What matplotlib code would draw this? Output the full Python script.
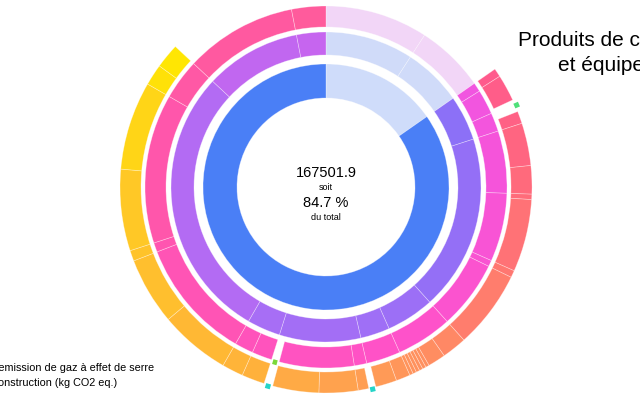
import matplotlib
matplotlib.use("Agg")
import matplotlib.pyplot as plt
from matplotlib.patches import Wedge
from matplotlib.colors import LinearSegmentedColormap
import numpy as np

plt.rcParams['font.family'] = ['Liberation Sans', 'DejaVu Sans']

# valeurs en kg CO2 eq., anneau par anneau, sens horaire depuis midi
# l = hors sélection (pâle), h = sélection, g = vide (petit repère), n = rien
ring1_values = [30257.1, 167501.9]
ring1_kind = ['l', 'h']

ring2_values = [18128, 12129, 9295, 36256, 9888, 6043, 16755, 6867, 56581, 19776, 6043]
ring2_kind = ['l', 'l', 'h', 'h', 'h', 'h', 'h', 'h', 'h', 'h', 'h']

ring3_values = [18128, 12129, 1604, 4395, 3296, 10987, 12085, 1099, 12085, 9888, 6043,
                2197, 13184, 1373, 3571, 3296, 21424, 1648, 26368, 7141, 19776, 6043]
ring3_kind = ['l', 'l', 'h', 'h', 'h', 'h', 'h', 'h', 'h', 'h', 'h',
              'h', 'h', 'g', 'h', 'h', 'h', 'h', 'h', 'h', 'h', 'h']

ring4_values = [30257, 1329, 4120, 1923, 1923, 6592, 4395, 824, 11261, 1099, 12085,
                3845, 2747, 549, 549, 549, 549, 549, 549, 2197, 3296, 1099, 1648,
                6043, 7141, 1373, 3571, 3296, 10987, 10437, 1648, 12635, 13733,
                3296, 3845, 25819]
ring4_kind = ['n', 'h', 'h', 'g', 'h', 'h', 'h', 'h', 'h', 'h', 'h',
              'h', 'h', 'h', 'h', 'h', 'h', 'h', 'h', 'h', 'h', 'g', 'h',
              'h', 'h', 'g', 'h', 'h', 'h', 'h', 'h', 'h', 'h',
              'h', 'h', 'n']

total = sum(ring1_values)
selection = ring1_values[1]

# mise en forme
cx, cy = 326, 187
rings = [
    (ring1_values, ring1_kind, 89, 123, ['#4a7ff6', '#4a7ff6'], '#cfdcfa', []),
    (ring2_values, ring2_kind, 132, 155, ['#8a70f7', '#a86ef5', '#c765ef'], '#d0dbf9', []),
    (ring3_values, ring3_kind, 160, 181, ['#f155e0', '#ff52c8', '#ff55ae', '#ff5b9b'], '#f2d6f7', ['#7ad83a']),
    (ring4_values, ring4_kind, 185, 206, ['#ff5a8c', '#ff6c7a', '#ff7e6c', '#ff9c56', '#ffb23a',
                                          '#ffbf2e', '#ffcd22', '#ffe800'], None,
     ['#4fe07a', '#26d4c8', '#26d4c8']),
]

fig = plt.figure(figsize=(6.4, 4), dpi=100)
ax = fig.add_axes([0, 0, 1, 1])
ax.set_xlim(0, 640)
ax.set_ylim(400, 0)
ax.set_aspect('equal')
ax.axis('off')

for values, kinds, r_in, r_out, anchors, light, marks in rings:
    cmap = LinearSegmentedColormap.from_list('ring', anchors)
    ends = 360 * np.cumsum(values) / total
    starts = np.concatenate([[0], ends[:-1]])
    hi = [i for i, k in enumerate(kinds) if k in 'hg']
    a0, a1 = starts[hi[0]], ends[hi[-1]]
    m = 0
    for i, k in enumerate(kinds):
        s, e = starts[i], ends[i]
        # angles écran : 0 = midi, sens horaire (axe y inversé)
        if k == 'n':
            continue
        if k == 'g':
            mid = (s + e) / 2
            ax.add_patch(Wedge((cx, cy), r_out + 4, mid - 90 - 0.7, mid - 90 + 0.7,
                               width=5, color=marks[m], lw=0))
            m += 1
            continue
        if k == 'l':
            col = light
        else:
            col = cmap(((s + e) / 2 - a0) / (a1 - a0))
        ax.add_patch(Wedge((cx, cy), r_out, s - 90, e - 90, width=r_out - r_in,
                           facecolor=col, edgecolor=(1, 1, 1, 0.4), lw=0.5))

ax.text(cx, 173, f"{selection:.1f}", ha='center', va='center', fontsize=10.5)
ax.text(cx, 187, "soit", ha='center', va='center', fontsize=6.5)
ax.text(cx, 203, f"{100 * selection / total:.1f} %", ha='center', va='center', fontsize=10.5)
ax.text(cx, 218, "du total", ha='center', va='center', fontsize=6.5)

ax.text(630, 53, "Produits de construction\net équipements", ha='center', va='center',
        fontsize=15, linespacing=1.35)

ax.text(154, 368, "Total emission de gaz à effet de serre", ha='right', va='center', fontsize=7.8)
ax.text(117, 383, "Produits de construction (kg CO2 eq.)", ha='right', va='center', fontsize=7.8)

fig.savefig("out.png", dpi=100)
